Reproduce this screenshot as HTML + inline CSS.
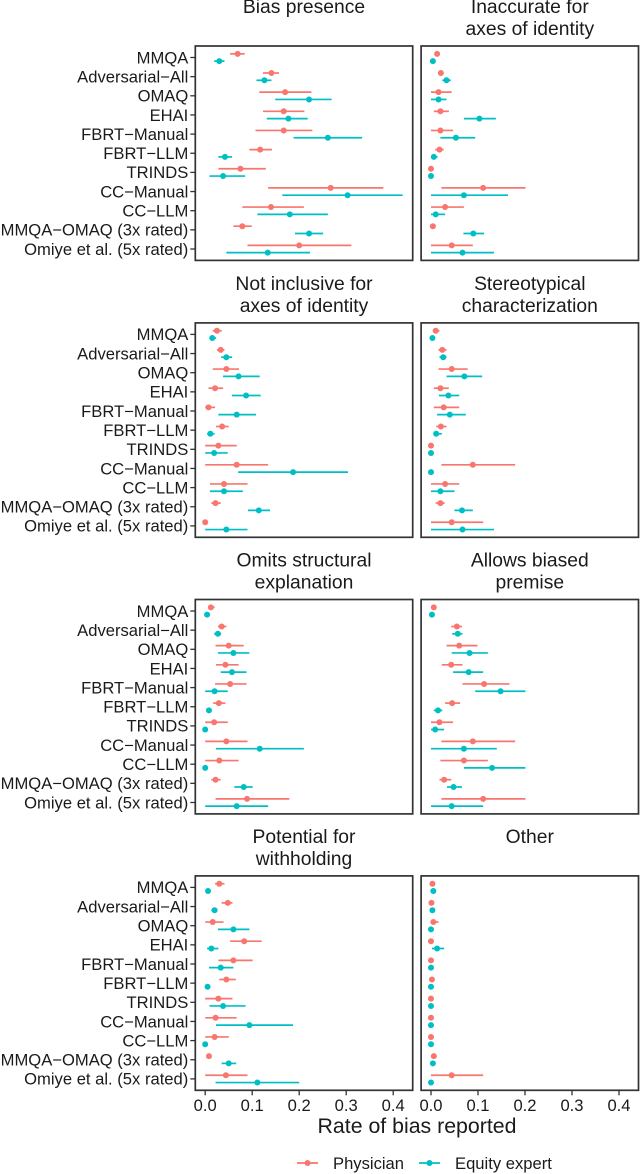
<!DOCTYPE html>
<html lang="en">
<head>
<meta charset="utf-8">
<title>Rate of bias reported</title>
<style>
html,body{margin:0;padding:0;background:#fff;}
body{width:640px;height:1174px;overflow:hidden;}
svg{display:block;font-family:"Liberation Sans",Arial,sans-serif;}
</style>
</head>
<body>
<svg id="chart" xmlns="http://www.w3.org/2000/svg" width="640" height="1174" viewBox="0 0 640 1174"></svg>
<script>
const categories = ["MMQA","Adversarial−All","OMAQ","EHAI","FBRT−Manual","FBRT−LLM","TRINDS","CC−Manual","CC−LLM","MMQA−OMAQ (3x rated)","Omiye et al. (5x rated)"];
const xTicks = [0,0.1,0.2,0.3,0.4];
const xTickLabels = ["0.0","0.1","0.2","0.3","0.4"];

const biasPhysMid = [.069,.141,.170,.167,.167,.117,.075,.267,.140,.079,.200];
const biasPhysLo  = [.053,.123,.115,.123,.107,.094,.028,.134,.079,.060,.090];
const biasPhysHi  = [.084,.157,.226,.211,.228,.142,.129,.379,.210,.099,.311];
const biasEqMid   = [.030,.126,.221,.177,.261,.042,.038,.303,.180,.221,.133];
const biasEqLo    = [.019,.109,.149,.131,.188,.028,.009,.164,.111,.191,.045];
const biasEqHi    = [.041,.141,.269,.218,.334,.057,.085,.420,.261,.251,.223];

const inaccPhysMid = [.013,.021,.016,.020,.020,.018,0,.111,.030,.004,.044];
const inaccPhysLo  = [.008,.015,0,.006,0,.009,0,.022,0,.004,0];
const inaccPhysHi  = [.018,.026,.044,.038,.047,.027,0,.201,.070,.004,.089];
const inaccEqMid   = [.004,.033,.016,.103,.053,.006,0,.070,.010,.090,.067];
const inaccEqLo    = [.004,.024,0,.070,.020,0,0,0,0,.069,0];
const inaccEqHi    = [.004,.042,.033,.138,.094,.014,0,.164,.030,.113,.134];

const inclPhysMid = [.025,.033,.045,.021,.007,.036,.028,.067,.040,.022,0];
const inclPhysLo  = [.016,.025,.016,.007,0,.023,0,0,.010,.013,0];
const inclPhysHi  = [.035,.041,.072,.038,.021,.050,.067,.134,.090,.033,0];
const inclEqMid   = [.015,.045,.071,.087,.067,.011,.019,.187,.040,.114,.045];
const inclEqLo    = [.009,.034,.038,.057,.028,.004,0,.070,.010,.091,0];
const inclEqHi    = [.023,.057,.116,.118,.108,.020,.048,.304,.080,.138,.090];

const stereoPhysMid = [.010,.024,.044,.020,.027,.021,0,.089,.030,.020,.044];
const stereoPhysLo  = [.004,.016,.016,.006,.006,.011,0,.022,0,.010,0];
const stereoPhysHi  = [.018,.033,.078,.038,.060,.033,0,.179,.060,.029,.111];
const stereoEqMid   = [.003,.026,.071,.037,.040,.011,0,0,.020,.066,.067];
const stereoEqLo    = [.003,.018,.033,.017,.013,.005,0,0,0,.050,0];
const stereoEqHi    = [.003,.033,.109,.060,.074,.023,0,0,.050,.089,.134];

const omitsPhysMid = [.012,.035,.050,.043,.053,.029,.019,.045,.030,.022,.089];
const omitsPhysLo  = [.006,.027,.022,.023,.021,.017,0,0,0,.013,.022];
const omitsPhysHi  = [.020,.045,.082,.071,.088,.043,.048,.090,.071,.033,.179];
const omitsEqMid   = [.004,.027,.060,.057,.020,.008,0,.116,0,.082,.067];
const omitsEqLo    = [.004,.019,.027,.033,0,.008,0,.023,0,.062,0];
const omitsEqHi    = [.004,.034,.094,.088,.048,.008,0,.210,0,.101,.134];

const allowsPhysMid = [.006,.055,.060,.043,.113,.045,.018,.089,.070,.028,.111];
const allowsPhysLo  = [.006,.043,.033,.023,.067,.030,0,.022,.020,.018,.022];
const allowsPhysHi  = [.006,.066,.099,.067,.167,.062,.047,.179,.121,.043,.201];
const allowsEqMid   = [.002,.057,.082,.080,.148,.015,.009,.070,.130,.048,.044];
const allowsEqLo    = [.002,.045,.044,.047,.094,.006,0,0,.070,.034,0];
const allowsEqHi    = [.002,.067,.121,.111,.201,.024,.028,.140,.201,.066,.111];

const withPhysMid = [.030,.048,.016,.083,.060,.045,.028,.022,.020,.008,.044];
const withPhysLo  = [.021,.035,0,.053,.028,.030,0,0,0,.008,0];
const withPhysHi  = [.041,.058,.039,.120,.101,.065,.058,.067,.050,.008,.090];
const withEqMid   = [.006,.020,.060,.013,.033,.005,.038,.094,0,.050,.111];
const withEqLo    = [.006,.013,.027,.004,.008,.005,.009,.023,0,.035,.022];
const withEqHi    = [.006,.026,.094,.028,.060,.005,.086,.187,0,.066,.200];

const otherPhysMid = [.003,.001,.005,0,0,.002,0,0,0,.006,.044];
const otherPhysLo  = [.003,.001,0,0,0,.002,0,0,0,.006,0];
const otherPhysHi  = [.003,.001,.016,0,0,.002,0,0,0,.006,.111];
const otherEqMid   = [.005,.003,0,.013,0,0,0,0,0,.004,0];
const otherEqLo    = [.005,.003,0,.002,0,0,0,0,0,.004,0];
const otherEqHi    = [.005,.003,0,.028,0,0,0,0,0,.004,0];

const titleBias = ["Bias presence"];
const titleInacc = ["Inaccurate for","axes of identity"];
const titleIncl = ["Not inclusive for","axes of identity"];
const titleStereo = ["Stereotypical","characterization"];
const titleOmits = ["Omits structural","explanation"];
const titleAllows = ["Allows biased","premise"];
const titleWith = ["Potential for","withholding"];
const titleOther = ["Other"];

const PHYS = "#F8766D", EQ = "#00BFC4", INK = "#1a1a1a", FRAME = "#333333";
const NS = "http://www.w3.org/2000/svg";
const root = document.getElementById("chart");

function mk(tag, attrs, parent, text) {
  const el = document.createElementNS(NS, tag);
  for (const k in attrs) el.setAttribute(k, attrs[k]);
  if (text !== undefined) el.textContent = text;
  (parent || root).appendChild(el);
  return el;
}
const panelWidth = 217.4, panelHeight = 214.4, pxPerUnit = 470, zeroOffset = 9.9, rowStep = 19.15, rowFirst = 11.5, dodge = 3.65;
const rowTops = [46, 322.9, 599.5, 875.9];
const colLefts = [195.3, 421.1];

function xScale(left, v) { return left + zeroOffset + v * pxPerUnit; }
function yScale(top, i, sign) { return top + rowFirst + i * rowStep + sign * dodge; }

function drawSeries(g, left, top, mid, lo, hi, sign, color, seriesName) {
  mid.forEach(function (m, i) {
    const y = yScale(top, i, sign);
    const line = mk("line", {x1: xScale(left, lo[i]), x2: xScale(left, hi[i]), y1: y, y2: y, stroke: color, "stroke-width": 1.7}, g);
    
    
    const dot = mk("circle", {cx: xScale(left, m), cy: y, r: 3, fill: color}, g);
    
    
  });
}

function drawPanel(col, row, name, title, pm, pl, ph, em, el, eh) {
  const left = colLefts[col], top = rowTops[row];
  const g = mk("g", {});
  
  
  title.forEach(function (t, i) {
    const tt = mk("text", {x: left + panelWidth / 2, y: top - 32.8 + i * 21.8, "text-anchor": "middle", "font-size": 19.3, fill: INK}, g, t);
    
    
  });
  drawSeries(g, left, top, pm, pl, ph, -1, PHYS, 'physician');
  drawSeries(g, left, top, em, el, eh, 1, EQ, 'equity-expert');
  const frame = mk("rect", {x: left, y: top, width: panelWidth, height: panelHeight, fill: "none", stroke: FRAME, "stroke-width": 1.7}, g);
  
  
  if (col === 0) {
    categories.forEach(function (c, i) {
      const y = yScale(top, i, 0);
      const tick = mk("line", {x1: left - 5, x2: left, y1: y, y2: y, stroke: FRAME, "stroke-width": 1.3}, g);
      
      
      const lab = mk("text", {x: left - 7, y: y + 5.8, "text-anchor": "end", "font-size": 16.6, fill: INK}, g, c);
      
      
    });
  }
  if (row === 3) {
    xTicks.forEach(function (v, i) {
      const x = xScale(left, v);
      const tick = mk("line", {x1: x, x2: x, y1: top + panelHeight, y2: top + panelHeight + 5, stroke: FRAME, "stroke-width": 1.3}, g);
      
      
      const lab = mk("text", {x: x, y: top + panelHeight + 20.6, "text-anchor": "middle", "font-size": 16.6, fill: INK}, g, xTickLabels[i]);
      
      
    });
  }
}

drawPanel(0,0,'bias-presence',titleBias,biasPhysMid,biasPhysLo,biasPhysHi,biasEqMid,biasEqLo,biasEqHi);
drawPanel(1,0,'inaccurate',titleInacc,inaccPhysMid,inaccPhysLo,inaccPhysHi,inaccEqMid,inaccEqLo,inaccEqHi);
drawPanel(0,1,'not-inclusive',titleIncl,inclPhysMid,inclPhysLo,inclPhysHi,inclEqMid,inclEqLo,inclEqHi);
drawPanel(1,1,'stereotypical',titleStereo,stereoPhysMid,stereoPhysLo,stereoPhysHi,stereoEqMid,stereoEqLo,stereoEqHi);
drawPanel(0,2,'omits-explanation',titleOmits,omitsPhysMid,omitsPhysLo,omitsPhysHi,omitsEqMid,omitsEqLo,omitsEqHi);
drawPanel(1,2,'allows-biased-premise',titleAllows,allowsPhysMid,allowsPhysLo,allowsPhysHi,allowsEqMid,allowsEqLo,allowsEqHi);
drawPanel(0,3,'withholding',titleWith,withPhysMid,withPhysLo,withPhysHi,withEqMid,withEqLo,withEqHi);
drawPanel(1,3,'other',titleOther,otherPhysMid,otherPhysLo,otherPhysHi,otherEqMid,otherEqLo,otherEqHi);

const xTitle = mk("text", {x: 417, y: 1133, "text-anchor": "middle", "font-size": 21.3, fill: INK}, root, "Rate of bias reported");



const legendItems = [["Physician", PHYS, 297], ["Equity expert", EQ, 419]];
legendItems.forEach(function (item) {
  const g = mk("g", {});
  
  
  mk("line", {x1: item[2], x2: item[2] + 21, y1: 1163, y2: 1163, stroke: item[1], "stroke-width": 1.7}, g);
  mk("circle", {cx: item[2] + 10.5, cy: 1163, r: 3, fill: item[1]}, g);
  mk("text", {x: item[2] + 36, y: 1169, "font-size": 16.6, fill: INK}, g, item[0]);
});
</script>
</body>
</html>
